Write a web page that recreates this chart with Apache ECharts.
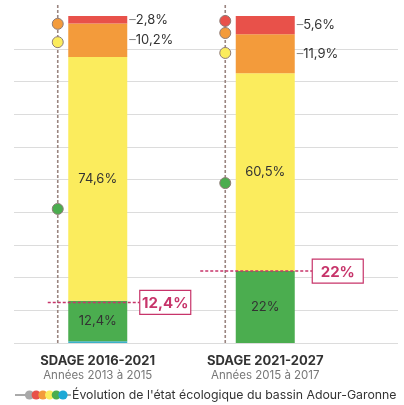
<!DOCTYPE html>
<html>
<head>
<meta charset="utf-8">
<script src="https://cdn.jsdelivr.net/npm/echarts@6/dist/echarts.min.js"></script>
<style>
  html, body { margin: 0; padding: 0; background: #fff; }
  #main { width: 404px; height: 405px; }
</style>
</head>
<body>
<div id="main"></div>
<script>
// periods and their data years
const periods = ["SDAGE 2016-2021", "SDAGE 2021-2027"];
const subtitles = ["Années 2013 à 2015", "Années 2015 à 2017"];

// share of water bodies per ecological state (%)
const tresBon = [0.5, 0];
const bon = [12.4, 22];
const moyen = [74.6, 60.5];
const mediocre = [10.2, 11.9];
const mauvais = [2.8, 5.6];

// "good state" share highlighted in the callout boxes
const objectif = [12.4, 22];

// dots on the evolution line (value-axis position)
const dotRed = [null, 98.5];
const dotOrange = [97.6, 94.8];
const dotYellow = [92, 88.7];
const dotGreen = [41, 48.9];

const legendText = "Évolution de l'état écologique du bassin Adour-Garonne";

const FONT = "Inter, 'Noto Sans', sans-serif";
const CRIMSON = "#c7346a";
const colors = {
  blue: "#3cb1c9",
  green: "#4bad4f",
  yellow: "#fbec5d",
  orange: "#f39b3b",
  red: "#e8514a",
};
// horizontal offsets of the callouts relative to the bar centre
const calloutStart = [-50, -65];
const calloutBox = [42, 47];

function fmt(v) {
  return String(v).replace(".", ",") + "%";
}

const insideLabel = {
  show: true,
  position: "inside",
  color: "#333",
  fontSize: 13,
  fontFamily: FONT,
  formatter: (p) => fmt(p.value),
};
const sideLabel = {
  show: true,
  position: "right",
  distance: 2,
  fontFamily: FONT,
  formatter: (p) => "{d|–}{v|" + fmt(p.value) + "}",
  rich: {
    d: { color: "#8a8a8a", fontSize: 13, fontFamily: FONT },
    v: { color: "#333", fontSize: 13, fontFamily: FONT },
  },
};

function stackBar(name, data, color, label) {
  return {
    name: name,
    type: "bar",
    stack: "etat",
    xAxisIndex: 1,
    yAxisIndex: 1,
    barWidth: 59,
    data: data,
    itemStyle: { color: color },
    label: label,
    emphasis: { disabled: true },
    z: 2,
  };
}

function dots(data, color) {
  return {
    type: "scatter",
    xAxisIndex: 1,
    yAxisIndex: 1,
    data: data,
    symbolSize: 11,
    symbolOffset: [-40, 0],
    itemStyle: { color: color, borderColor: "#8f7d78", borderWidth: 1, opacity: 1 },
    emphasis: { disabled: true },
    z: 5,
  };
}

const myChart = echarts.init(document.getElementById("main"));
myChart.setOption({
  animation: false,
  grid: [
    { left: 14, right: 6, top: 49, bottom: 62 },
    { left: 14, right: 55, top: 16, bottom: 62 },
  ],
  xAxis: [
    { type: "category", gridIndex: 0, data: periods, show: false },
    {
      type: "category",
      gridIndex: 1,
      data: periods,
      axisLine: { show: false },
      axisTick: { show: false },
      axisLabel: {
        margin: 11,
        formatter: (v, i) => "{t|" + v + "}\n{s|" + subtitles[i] + "}",
        rich: {
          t: { fontWeight: "bold", fontSize: 13, color: "#333", lineHeight: 15, fontFamily: FONT },
          s: { fontSize: 11.5, color: "#777", lineHeight: 14, fontFamily: FONT },
        },
      },
    },
  ],
  yAxis: [
    {
      type: "value",
      gridIndex: 0,
      min: 0,
      max: 90,
      interval: 10,
      axisLine: { show: false },
      axisTick: { show: false },
      axisLabel: { show: false },
      splitLine: { lineStyle: { color: "#dcdcdc", width: 1 } },
    },
    {
      type: "value",
      gridIndex: 1,
      min: 0,
      max: 100,
      show: false,
      splitLine: { show: false },
    },
  ],
  series: [
    stackBar("Très bon", tresBon, colors.blue, { show: false }),
    stackBar("Bon", bon, colors.green, insideLabel),
    stackBar("Moyen", moyen, colors.yellow, insideLabel),
    stackBar("Médiocre", mediocre, colors.orange, sideLabel),
    stackBar("Mauvais", mauvais, colors.red, sideLabel),
    {
      // dashed evolution line
      type: "custom",
      xAxisIndex: 1,
      yAxisIndex: 1,
      clip: false,
      z: 4,
      data: periods.map((p, i) => [i, 0]),
      renderItem: function (params, api) {
        const base = api.coord([api.value(0), 0]);
        const top = api.coord([api.value(0), 100]);
        const x = base[0] - 40;
        return {
          type: "line",
          shape: { x1: x, y1: base[1], x2: x, y2: top[1] - 11 },
          style: { stroke: "#9a8580", lineWidth: 1.6, lineDash: [3, 2] },
        };
      },
    },
    dots(dotRed, colors.red),
    dots(dotOrange, colors.orange),
    dots(dotYellow, colors.yellow),
    dots(dotGreen, colors.green),
    {
      // callouts for the good state share
      type: "custom",
      xAxisIndex: 1,
      yAxisIndex: 1,
      clip: false,
      z: 6,
      data: objectif.map((v, i) => [i, v]),
      renderItem: function (params, api) {
        const i = api.value(0);
        const v = api.value(1);
        const p = api.coord([i, v]);
        const bx = p[0] + calloutBox[i];
        return {
          type: "group",
          children: [
            {
              type: "line",
              shape: { x1: p[0] + calloutStart[i], y1: p[1], x2: bx, y2: p[1] },
              style: { stroke: CRIMSON, lineWidth: 1.5, lineDash: [3, 2] },
            },
            {
              type: "rect",
              shape: { x: bx, y: p[1] - 12, width: 51, height: 24 },
              style: { fill: "#fff", stroke: CRIMSON, lineWidth: 1.2 },
            },
            {
              type: "text",
              style: {
                x: bx + 25.5,
                y: p[1] + 1,
                text: fmt(v),
                fill: CRIMSON,
                font: "bold 15px " + FONT,
                align: "center",
                verticalAlign: "middle",
                textAlign: "center",
                textVerticalAlign: "middle",
              },
            },
          ],
        };
      },
    },
  ],
  graphic: [
    {
      type: "line",
      shape: { x1: 15, y1: 395, x2: 71, y2: 395 },
      style: { stroke: "#555", lineWidth: 1 },
    },
    ...["#a9a9a9", colors.red, colors.orange, colors.yellow, colors.green, "#1fa9d6"].map((c, k) => ({
      type: "circle",
      shape: { cx: 29.5 + k * 6.7, cy: 395, r: 4.6 },
      style: { fill: c },
    })),
    {
      type: "text",
      x: 72,
      y: 395,
      style: {
        text: legendText,
        fill: "#333",
        font: "12.3px " + FONT,
        verticalAlign: "middle",
      },
    },
  ],
});

window.addEventListener("resize", () => myChart.resize());
</script>
</body>
</html>
